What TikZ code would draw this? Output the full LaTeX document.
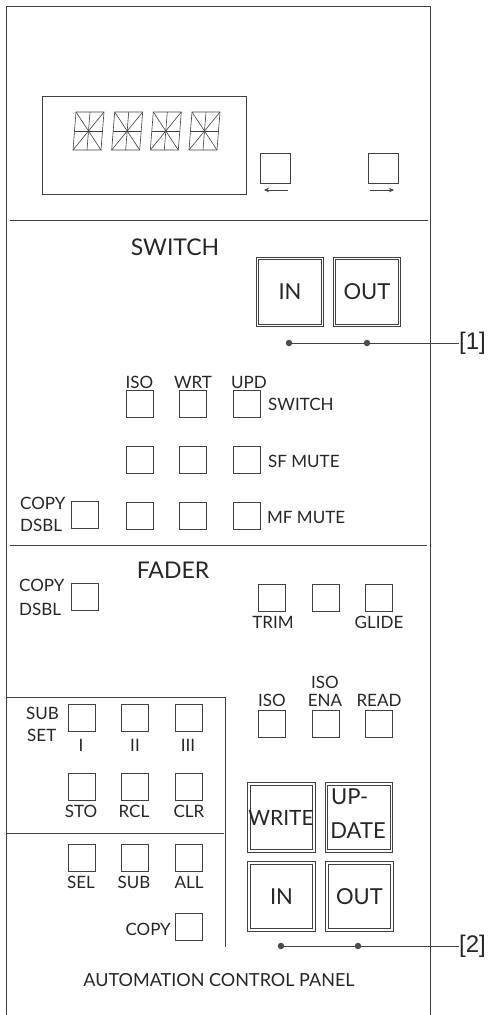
\documentclass[tikz,border=0pt]{standalone}
\usepackage{fontspec}
\setmainfont{Lato}
\newfontfamily\refont{Liberation Sans}
\usetikzlibrary{arrows.meta}
\begin{document}
\begin{tikzpicture}[x=1pt,y=-1pt,
  ln/.style={draw=black!75, line width=0.9pt},
  btn/.style={draw=black!75, line width=0.9pt, minimum width=27pt, minimum height=27pt, inner sep=0pt, outer sep=0pt},
  sqbtn/.style={btn, minimum width=30pt, minimum height=30pt},
  bigbtn/.style={draw=black!75, line width=0.8pt, double=white, double distance=1.5pt, minimum width=65pt, minimum height=67pt, inner sep=0pt, font=\fontsize{22}{22}\selectfont, text=black!85},
  lbl/.style={font=\fontsize{17}{17}\selectfont, inner sep=0pt, text=black!85},
  ttl/.style={font=\fontsize{23}{23}\selectfont, inner sep=0pt, text=black!85},
  refl/.style={font=\refont\fontsize{24}{24}\selectfont, inner sep=0pt, text=black!85},
  dot/.style={circle, fill=black!70, inner sep=0pt, minimum size=6.5pt},
  seg/.style={draw=black!75, line width=0.6pt}
]
\useasboundingbox (0,0) rectangle (488,1015);
% panel outline and separators
\draw[ln] (6,1015) -- (6,6) -- (430,6) -- (430,1015);
\draw[ln] (10,220) -- (428,220);
\draw[ln] (10,545) -- (427,545);
\draw[ln] (7,697) -- (225,697) -- (225,947);
\draw[ln] (7,833) -- (224,833);
% display
\draw[ln] (42,96) rectangle (246,194);
\foreach \dx in {0,38.7,77.3,116}{
  \begin{scope}[xshift=\dx pt]
    \draw[seg] (76,112) -- (104,112) -- (101,150) -- (73,150) -- cycle;
    \draw[seg] (74.5,131) -- (102.5,131);
    \draw[seg] (90,112) -- (87,150);
    \draw[seg] (76,112) -- (101,150);
    \draw[seg] (104,112) -- (73,150);
  \end{scope}
}
\node[sqbtn] (left) at (275,168.5) {};
\node[sqbtn] (right) at (383.5,168.5) {};
\coordinate (la1) at (288,190); \coordinate (la2) at (264,190);
\coordinate (ra1) at (370,190); \coordinate (ra2) at (394,190);
\draw[seg,-{Stealth[length=5pt,width=4.5pt]}] (la1) -- (la2);
\draw[seg,-{Stealth[length=5pt,width=4.5pt]}] (ra1) -- (ra2);
% SWITCH section
\node[ttl] (swt) at (175,247) {SWITCH};
\node[bigbtn] (swin) at (290,292) {IN};
\node[bigbtn] (swout) at (367,292) {OUT};
\node[dot] (d1) at (289,343) {};
\node[dot] (d2) at (367,343) {};
\node[refl, anchor=west] (r1) at (459,343) {[1]};
\draw[seg] (d1) -- (d2) -- (r1.west);
\node[lbl] at (139.5,382) {ISO};
\node[lbl] at (193,382) {WRT};
\node[lbl] at (249,382) {UPD};
\foreach \r/\y in {1/403.5,2/460,3/516}{
  \node[btn] (s\r a) at (139.5,\y) {};
  \node[btn] (s\r b) at (192.5,\y) {};
  \node[btn] (s\r c) at (246.5,\y) {};
}
\node[lbl, anchor=west] at (268,404) {SWITCH};
\node[lbl, anchor=west] at (268,461) {SF MUTE};
\node[lbl, anchor=west] at (267,517) {MF MUTE};
\node[btn] (scd) at (84.5,515) {};
\node[lbl, anchor=west] at (20,503) {COPY};
\node[lbl, anchor=west] at (20,525) {DSBL};
% FADER section
\node[ttl] (fdt) at (173,570) {FADER};
\node[btn] (fcd) at (84.5,597) {};
\node[lbl, anchor=west] at (19,585) {COPY};
\node[lbl, anchor=west] at (19,609) {DSBL};
\node[btn] (trim) at (271.5,597.5) {};
\node[btn] (mid) at (325.5,597.5) {};
\node[btn] (glide) at (378.5,597.5) {};
\node[lbl] at (273,622) {TRIM};
\node[lbl] at (379,622) {GLIDE};
\node[btn] (iso) at (271.5,723.5) {};
\node[btn] (isoena) at (325.5,723.5) {};
\node[btn] (read) at (378.5,723.5) {};
\node[lbl] at (272,700) {ISO};
\node[lbl] at (325,682) {ISO};
\node[lbl] at (325,700) {ENA};
\node[lbl] at (379,700) {READ};
% subset block
\node[btn] (ss1) at (81.5,717.5) {};
\node[btn] (ss2) at (134.5,717.5) {};
\node[btn] (ss3) at (188.5,717.5) {};
\node[lbl, anchor=west] at (26,713) {SUB};
\node[lbl, anchor=west] at (27,735) {SET};
\node[lbl] at (81,745) {I};
\node[lbl] at (135,745) {II};
\node[lbl] at (188,745) {III};
\node[btn] (sto) at (81.5,786.5) {};
\node[btn] (rcl) at (134.5,786.5) {};
\node[btn] (clr) at (188.5,786.5) {};
\node[lbl] at (81,811) {STO};
\node[lbl] at (134,811) {RCL};
\node[lbl] at (189,811) {CLR};
\node[btn] (sel) at (81.5,857.5) {};
\node[btn] (sub) at (134.5,857.5) {};
\node[btn] (all) at (188.5,857.5) {};
\node[lbl] at (81,882) {SEL};
\node[lbl] at (134,882) {SUB};
\node[lbl] at (189,882) {ALL};
\node[btn] (copy) at (188.5,927) {};
\node[lbl, anchor=east] at (171,929) {COPY};
% big buttons
\node[bigbtn] (write) at (281.5,817.5) {};
\node[font=\fontsize{21}{21}\selectfont, text=black!85, inner sep=0pt] at (281,818) {WRITE};
\node[bigbtn] (update) at (359,817.5) {};
\node[font=\fontsize{22}{22}\selectfont, text=black!85, inner sep=0pt, anchor=west] at (331,797) {UP-};
\node[font=\fontsize{22}{22}\selectfont, text=black!85, inner sep=0pt] at (358,831) {DATE};
\node[bigbtn] (fin) at (281.5,896.5) {IN};
\node[bigbtn] (fout) at (359.5,896.5) {OUT};
\node[dot] (d3) at (281,946) {};
\node[dot] (d4) at (358,946) {};
\node[refl, anchor=west] (r2) at (459,946) {[2]};
\draw[seg] (d3) -- (d4) -- (r2.west);
\node[lbl, font=\fontsize{18}{18}\selectfont] (acp) at (219,980) {AUTOMATION CONTROL PANEL};
\end{tikzpicture}
\end{document}
